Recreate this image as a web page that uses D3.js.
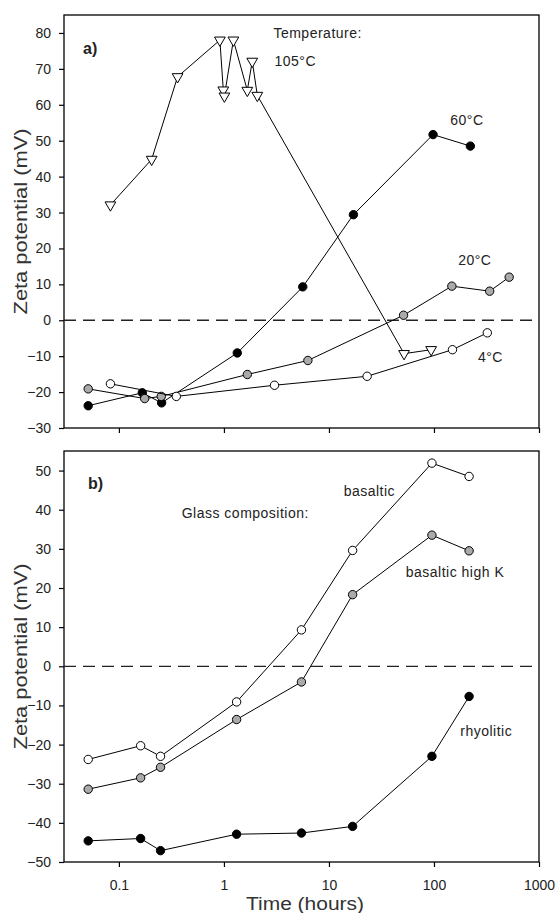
<!DOCTYPE html>
<html>
<head>
<meta charset="utf-8">
<script src="https://cdn.jsdelivr.net/npm/d3@7"></script>
<style>
  body { margin: 0; background: #fff; }
  svg { display: block; font-family: "Liberation Sans", Arial, sans-serif; }
  .tick text { font-size: 14px; fill: #222; }
  .tick line { stroke: #000; stroke-width: 1.2; }
  .note { font-size: 14px; fill: #222; letter-spacing: 0.5px; }
</style>
</head>
<body>
<div id="chart"></div>
<script>
// time in hours, zeta potential in mV

// a) temperature series
const t105 = [0.083, 0.205, 0.362, 0.915, 0.986, 1.01, 1.23, 1.67, 1.86, 2.08, 51.9, 94.0];
const z105 = [32.1, 44.8, 67.8, 78, 64.1, 62.4, 78, 64, 72.1, 62.6, -9.3, -8.2];
const t60 = [0.051, 0.167, 0.255, 1.34, 5.63, 17.1, 98, 222];
const z60 = [-23.8, -20.2, -23.0, -9.1, 9.3, 29.4, 51.7, 48.5];
const t20 = [0.051, 0.176, 0.253, 1.67, 6.3, 51.3, 148, 339, 520];
const z20 = [-19.1, -21.8, -21.2, -15.1, -11.2, 1.4, 9.5, 8.1, 12.0];
const t4 = [0.083, 0.352, 3.03, 23.1, 150, 322];
const z4 = [-17.7, -21.2, -18.1, -15.6, -8.2, -3.5];

// b) glass composition series
const tGlass = [0.051, 0.161, 0.249, 1.32, 5.47, 16.8, 95.6, 216];
const zBasaltic = [-23.8, -20.3, -23.0, -9.1, 9.3, 29.6, 51.9, 48.5];
const zHighK = [-31.4, -28.5, -25.8, -13.6, -4.0, 18.3, 33.5, 29.5];
const zRhyolitic = [-44.6, -44.0, -47.1, -42.9, -42.6, -40.9, -23.0, -7.7];

const xTicks = [0.1, 1, 10, 100, 1000];
const yTicksA = d3.range(-30, 81, 10);
const yTicksB = d3.range(-50, 51, 10);

const W = 557, H = 913;
const left = 64, right = 539;

const svg = d3.select('#chart').append('svg')
    .attr('width', W).attr('height', H);

const x = d3.scaleLog().domain([0.03, 1000]).range([left, right]);

const zip = (ts, zs) => ts.map((t, i) => ({t, z: zs[i]}));

const panels = [
    {
        top: 15, bottom: 428, domain: [-30, 85], ticks: yTicksA, tag: 'a)', showX: false,
        series: [
            {pts: zip(t105, z105), marker: 'tri', fill: '#fff'},
            {pts: zip(t60, z60), marker: 'circle', fill: '#000'},
            {pts: zip(t20, z20), marker: 'circle', fill: '#aaa'},
            {pts: zip(t4, z4), marker: 'circle', fill: '#fff'}
        ],
        notes: [
            {text: 'Temperature:', t: 2.96, z: 78.7},
            {text: '105°C', t: 3.03, z: 70.7},
            {text: '60°C', t: 143, z: 54.5},
            {text: '20°C', t: 170, z: 15.5},
            {text: '4°C', t: 262, z: -11.6}
        ]
    },
    {
        top: 451, bottom: 862, domain: [-50, 55], ticks: yTicksB, tag: 'b)', showX: true,
        series: [
            {pts: zip(tGlass, zBasaltic), marker: 'circle', fill: '#fff'},
            {pts: zip(tGlass, zHighK), marker: 'circle', fill: '#aaa'},
            {pts: zip(tGlass, zRhyolitic), marker: 'circle', fill: '#000'}
        ],
        notes: [
            {text: 'Glass composition:', t: 0.396, z: 37.9},
            {text: 'basaltic', t: 13.8, z: 43.5},
            {text: 'basaltic high K', t: 53.8, z: 22.8},
            {text: 'rhyolitic', t: 178, z: -17.8}
        ]
    }
];

const tri = d3.symbol().type(d3.symbolTriangle).size(50);

panels.forEach(p => {
    const y = d3.scaleLinear().domain(p.domain).range([p.bottom, p.top]);
    const g = svg.append('g');

    // y axis
    g.append('g')
        .attr('transform', `translate(${left},0)`)
        .call(d3.axisLeft(y).tickValues(p.ticks).tickSize(5).tickPadding(8))
        .call(a => a.select('.domain').remove());

    // x axis (labels only on the lower panel)
    g.append('g')
        .attr('transform', `translate(0,${p.bottom})`)
        .call(d3.axisBottom(x).tickValues(xTicks).tickSize(5).tickPadding(13)
            .tickFormat(p.showX ? d3.format('~g') : ''))
        .call(a => a.select('.domain').remove());

    // frame
    g.append('rect')
        .attr('x', left).attr('y', p.top)
        .attr('width', right - left).attr('height', p.bottom - p.top)
        .attr('fill', 'none').attr('stroke', '#000').attr('stroke-width', 1.3);

    // zero line
    g.append('line')
        .attr('x1', left).attr('x2', right)
        .attr('y1', y(0)).attr('y2', y(0))
        .attr('stroke', '#222').attr('stroke-width', 1.3)
        .attr('stroke-dasharray', '12,7');

    const line = d3.line().x(d => x(d.t)).y(d => y(d.z));

    p.series.forEach(s => {
        g.append('path')
            .attr('d', line(s.pts))
            .attr('fill', 'none').attr('stroke', '#000').attr('stroke-width', 1);

        const m = g.append('g').selectAll('.m').data(s.pts).join(
            enter => s.marker === 'tri'
                ? enter.append('path').attr('d', tri)
                    .attr('transform', d => `translate(${x(d.t)},${y(d.z)}) rotate(180)`)
                : enter.append('circle').attr('r', 4.2)
                    .attr('cx', d => x(d.t)).attr('cy', d => y(d.z))
        );
        m.attr('fill', s.fill).attr('stroke', '#000').attr('stroke-width', 1);
    });

    p.notes.forEach(n => {
        g.append('text').attr('class', 'note')
            .attr('x', x(n.t)).attr('y', y(n.z))
            .text(n.text);
    });

    g.append('text')
        .attr('x', p.tag === 'a)' ? 83 : 88)
        .attr('y', p.tag === 'a)' ? 54 : 489)
        .attr('font-size', 16).attr('font-weight', 'bold').attr('fill', '#222')
        .text(p.tag);

    // y title
    const cy = (p.top + p.bottom) / 2;
    g.append('text')
        .attr('transform', `translate(27,${cy}) rotate(-90)`)
        .attr('text-anchor', 'middle')
        .attr('font-size', 18).attr('fill', '#333')
        .attr('textLength', 186).attr('lengthAdjust', 'spacingAndGlyphs')
        .text('Zeta potential (mV)');
});

svg.append('text')
    .attr('x', 305).attr('y', 910)
    .attr('text-anchor', 'middle')
    .attr('font-size', 18).attr('fill', '#333')
    .attr('textLength', 118).attr('lengthAdjust', 'spacingAndGlyphs')
    .text('Time (hours)');
</script>
</body>
</html>
